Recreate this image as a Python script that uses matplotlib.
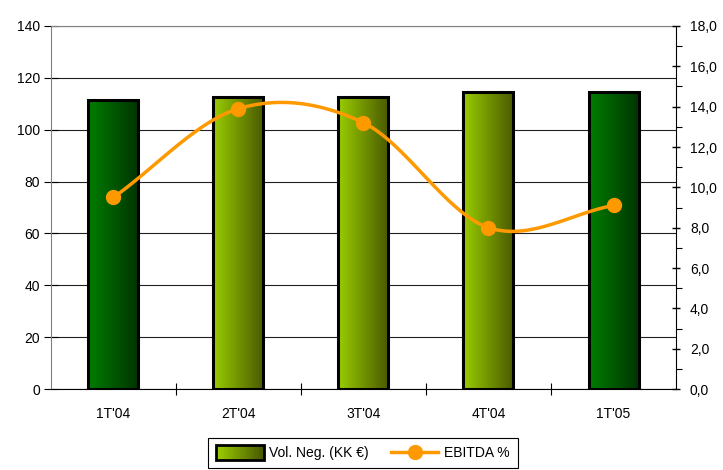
import numpy as np
import matplotlib
matplotlib.use("Agg")
import matplotlib.pyplot as plt
from matplotlib.patches import Rectangle
from matplotlib.lines import Line2D
from matplotlib.legend_handler import HandlerBase
from matplotlib.colors import LinearSegmentedColormap
from matplotlib.ticker import FuncFormatter, MultipleLocator

plt.rcParams["font.family"] = ["Liberation Sans", "DejaVu Sans"]

# ---- data ----
quarters = ["1T'04", "2T'04", "3T'04", "4T'04", "1T'05"]
vol_neg = [111.5, 112.5, 112.5, 114.5, 114.5]       # Vol. Neg. (KK €)
ebitda = [9.5, 13.9, 13.2, 8.0, 9.1]               # EBITDA %
bar_style = ["dark", "light", "light", "light", "dark"]

GRAD = {
    "dark": ("#007D00", "#003300"),
    "light": ("#99CC00", "#4A5A00"),
}
ORANGE = "#FF9900"
BAR_W = 0.4


def smooth(xs, ys, n=30):
    """Catmull-Rom curve through the points (Excel-like smoothed line)."""
    xs, ys = np.asarray(xs, float), np.asarray(ys, float)
    px = np.concatenate([[2 * xs[0] - xs[1]], xs, [2 * xs[-1] - xs[-2]]])
    py = np.concatenate([[2 * ys[0] - ys[1]], ys, [2 * ys[-1] - ys[-2]]])
    ox, oy = [], []
    t = np.linspace(0, 1, n)
    for i in range(1, len(px) - 2):
        for arr, out in ((px, ox), (py, oy)):
            p0, p1, p2, p3 = arr[i - 1:i + 3]
            out.extend(0.5 * ((2 * p1) + (-p0 + p2) * t
                              + (2 * p0 - 5 * p1 + 4 * p2 - p3) * t ** 2
                              + (-p0 + 3 * p1 - 3 * p2 + p3) * t ** 3))
    return np.array(ox), np.array(oy)


class GradHandler(HandlerBase):
    def create_artists(self, legend, orig, xd, yd, w, h, fontsize, trans):
        cm = LinearSegmentedColormap.from_list("g", GRAD["light"])
        arts = []
        k = 20
        for i in range(k):
            arts.append(Rectangle((xd + w * i / k, yd - 2), w / k + 0.3, h + 4,
                                  facecolor=cm(i / (k - 1)), edgecolor="none",
                                  transform=trans))
        arts.append(Rectangle((xd, yd - 2), w, h + 4, facecolor="none",
                              edgecolor="black", lw=2, transform=trans))
        return arts


fig = plt.figure(figsize=(7.23, 4.70), dpi=100)
ax = fig.add_axes([0.0705, 0.1723, 0.8645, 0.7724])
x = np.arange(len(quarters))

for xi, v, st in zip(x, vol_neg, bar_style):
    cm = LinearSegmentedColormap.from_list("g", GRAD[st])
    grad = np.linspace(0, 1, 64).reshape(1, -1)
    ax.imshow(grad, cmap=cm, aspect="auto", zorder=2,
              extent=[xi - BAR_W / 2, xi + BAR_W / 2, 0, v])
    ax.add_patch(Rectangle((xi - BAR_W / 2, 0), BAR_W, v, facecolor="none",
                           edgecolor="black", lw=2.2, zorder=3))

ax.set_xlim(-0.5, len(quarters) - 0.5)
ax.set_ylim(0, 140)
ax.set_yticks(range(0, 141, 20))
ax.yaxis.grid(True, color="#222222", lw=0.8, zorder=0)
ax.set_axisbelow(True)
ax.set_xticks(x)
ax.set_xticklabels(quarters)
ax.set_xticks(np.arange(0.5, len(quarters) - 0.5, 1), minor=True)
ax.tick_params(axis="x", which="major", length=0, pad=13, labelsize=10)
ax.tick_params(axis="x", which="minor", length=8, direction="inout", width=0.8)
ax.tick_params(axis="y", which="major", length=10, direction="inout",
               width=0.8, labelsize=10, pad=3)
ax.spines["top"].set_color("#808080")
ax.spines["left"].set_color("#808080")
ax.spines["right"].set_visible(False)
for s in ax.spines.values():
    s.set_linewidth(0.8)

ax2 = ax.twinx()
ax2.set_ylim(0, 18)
ax2.yaxis.set_major_locator(MultipleLocator(2))
ax2.yaxis.set_minor_locator(MultipleLocator(1))
ax2.yaxis.set_major_formatter(FuncFormatter(lambda v, p: f"{v:.1f}".replace(".", ",")))
ax2.tick_params(axis="y", which="major", length=6, direction="inout",
                width=1, labelsize=10, pad=7)
ax2.tick_params(axis="y", which="minor", length=4, direction="out", width=0.8)
for k in ("top", "left", "bottom"):
    ax2.spines[k].set_visible(False)
ax2.spines["right"].set_linewidth(0.8)

sx, sy = smooth(x, ebitda)
ax2.plot(sx, sy, color=ORANGE, lw=2.5, solid_capstyle="round", zorder=4)
ax2.plot(x, ebitda, "o", color=ORANGE, ms=10, zorder=5)

handles = [Rectangle((0, 0), 1, 1),
           Line2D([], [], color=ORANGE, lw=2.5, marker="o", ms=10)]
leg = fig.legend(handles, ["Vol. Neg. (KK €)", "EBITDA %"],
                 handler_map={Rectangle: GradHandler()},
                 loc="center", bbox_to_anchor=(0.502, 0.036), ncol=2,
                 fancybox=False, edgecolor="black", framealpha=1,
                 fontsize=10, handlelength=3.4, handletextpad=0.4,
                 columnspacing=1.6, borderpad=0.6, borderaxespad=0)
leg.get_frame().set_linewidth(0.8)

fig.savefig("out.png", dpi=100)
